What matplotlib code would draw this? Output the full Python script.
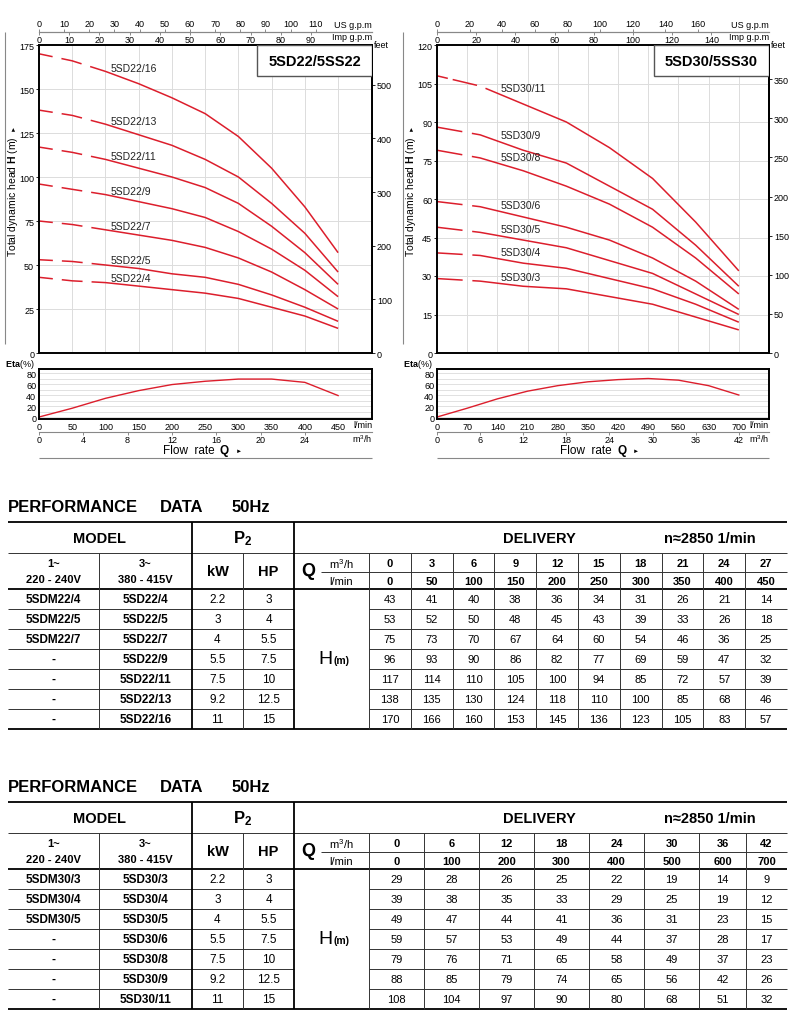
import numpy as np
import matplotlib
matplotlib.use('Agg')
import matplotlib.pyplot as plt
from matplotlib.patches import Rectangle
from matplotlib.transforms import offset_copy

plt.rcParams['font.family'] = ['Liberation Sans', 'DejaVu Sans']
plt.rcParams['mathtext.fontset'] = 'custom'
plt.rcParams['mathtext.rm'] = 'Liberation Sans'
plt.rcParams['mathtext.bf'] = 'Liberation Sans:bold'
plt.rcParams['mathtext.it'] = 'Liberation Sans:italic'
plt.rcParams['lines.scale_dashes'] = False
plt.rcParams['xtick.labelsize'] = 6.5
plt.rcParams['ytick.labelsize'] = 6.5

RED = '#dc1e2c'
GRID = '#dcdcdc'
LINE = '#333333'

# ---------------- data : 5SD22 / 5SS22 ----------------
q22_m3h = [0, 3, 6, 9, 12, 15, 18, 21, 24, 27]
q22_lmin = [0, 50, 100, 150, 200, 250, 300, 350, 400, 450]
model22_1ph = ['5SDM22/4', '5SDM22/5', '5SDM22/7', '-', '-', '-', '-']
model22_3ph = ['5SD22/4', '5SD22/5', '5SD22/7', '5SD22/9', '5SD22/11', '5SD22/13', '5SD22/16']
kw22 = ['2.2', '3', '4', '5.5', '7.5', '9.2', '11']
hp22 = ['3', '4', '5.5', '7.5', '10', '12.5', '15']
head22 = [
    [43, 41, 40, 38, 36, 34, 31, 26, 21, 14],
    [53, 52, 50, 48, 45, 43, 39, 33, 26, 18],
    [75, 73, 70, 67, 64, 60, 54, 46, 36, 25],
    [96, 93, 90, 86, 82, 77, 69, 59, 47, 32],
    [117, 114, 110, 105, 100, 94, 85, 72, 57, 39],
    [138, 135, 130, 124, 118, 110, 100, 85, 68, 46],
    [170, 166, 160, 153, 145, 136, 123, 105, 83, 57],
]
eta22_q = [0, 50, 100, 150, 200, 250, 300, 350, 400, 450]
eta22 = [0, 16, 34, 48, 59, 65, 69, 69, 63, 39]

# ---------------- data : 5SD30 / 5SS30 ----------------
q30_m3h = [0, 6, 12, 18, 24, 30, 36, 42]
q30_lmin = [0, 100, 200, 300, 400, 500, 600, 700]
model30_1ph = ['5SDM30/3', '5SDM30/4', '5SDM30/5', '-', '-', '-', '-']
model30_3ph = ['5SD30/3', '5SD30/4', '5SD30/5', '5SD30/6', '5SD30/8', '5SD30/9', '5SD30/11']
kw30 = ['2.2', '3', '4', '5.5', '7.5', '9.2', '11']
hp30 = ['3', '4', '5.5', '7.5', '10', '12.5', '15']
head30 = [
    [29, 28, 26, 25, 22, 19, 14, 9],
    [39, 38, 35, 33, 29, 25, 19, 12],
    [49, 47, 44, 41, 36, 31, 23, 15],
    [59, 57, 53, 49, 44, 37, 28, 17],
    [79, 76, 71, 65, 58, 49, 37, 23],
    [88, 85, 79, 74, 65, 56, 42, 26],
    [108, 104, 97, 90, 80, 68, 51, 32],
]
eta30_q = [0, 70, 140, 210, 280, 350, 420, 490, 560, 630, 700]
eta30 = [0, 16, 33, 47, 57, 64, 68, 70, 67, 57, 40]

W, H = 800, 1020
fig = plt.figure(figsize=(8, 10.2), dpi=100)

# overlay axes in pixel coordinates (for tables & decorations)
ov = fig.add_axes([0, 0, 1, 1])
ov.set_xlim(0, W)
ov.set_ylim(H, 0)
ov.set_axis_off()


def rect(x0, y0, x1, y1):
    return [x0 / W, 1 - y1 / H, (x1 - x0) / W, (y1 - y0) / H]


def hline(y, x0, x1, lw=0.7, color=LINE):
    ov.plot([x0, x1], [y, y], color=color, lw=lw, solid_capstyle='butt')


def vline(x, y0, y1, lw=0.7, color=LINE):
    ov.plot([x, x], [y0, y1], color=color, lw=lw, solid_capstyle='butt')


def draw_chart(xl, xr, q, heads, names, eta_q, eta, xmax, xstep, ymax, ystep,
               ft_max, ft_step, us_max, us_step, imp_max, imp_step, m3_max, m3_step,
               title, lab_x, lab_dy, dash_main, dash_special=None, special_idx=None):
    top, bot = 46, 354
    ax = fig.add_axes(rect(xl, top, xr, bot))
    ax.set_xlim(0, xmax)
    ax.set_ylim(0, ymax)
    ax.set_xticks(np.arange(0, xmax + 1, xstep))
    ax.set_yticks(np.arange(0, ymax + 1, ystep))
    ax.tick_params(axis='x', length=0, labelbottom=False)
    ax.tick_params(axis='y', length=2, width=0.6, pad=1.5)
    ax.grid(color=GRID, lw=0.7)
    ax.set_axisbelow(True)
    for s in ax.spines.values():
        s.set_linewidth(1.4)

    for i, (h, nm) in enumerate(zip(heads, names)):
        ls = dash_special if (special_idx is not None and i == special_idx) else dash_main
        ax.plot(q, h, color=RED, lw=1.1, ls=ls)
        tr = offset_copy(ax.transData, fig=fig, x=0, y=lab_dy, units='dots')
        ax.text(lab_x, np.interp(lab_x, q, h), nm, transform=tr, fontsize=7.5,
                ha='left', va='center', color='#222222')

    # feet axis
    ft = ax.secondary_yaxis('right', functions=(lambda m: m / 0.3048, lambda f: f * 0.3048))
    ft.set_ticks(np.arange(0, ft_max + 1, ft_step))
    ft.tick_params(length=2, width=0.6, pad=1.5)
    ft.spines['right'].set_linewidth(1.4)

    # top gpm axes
    loc = 1 + 13 / (bot - top)
    us = ax.secondary_xaxis(loc, functions=(lambda l: l / 3.785, lambda g: g * 3.785))
    us.set_ticks(np.arange(0, us_max + 1, us_step))
    us.tick_params(length=2, width=0.6, color='#777777', pad=1)
    us.spines['top'].set_color('#888888')
    us.spines['top'].set_linewidth(0.8)
    imp = ax.secondary_xaxis(loc, functions=(lambda l: l / 4.546, lambda g: g * 4.546))
    imp.set_alignment('bottom')
    imp.set_ticks(np.arange(0, imp_max + 1, imp_step))
    imp.tick_params(length=2, width=0.6, color='#777777', pad=0.5)
    imp.spines['bottom'].set_color('#888888')
    imp.spines['bottom'].set_linewidth(0.8)

    # title box
    bx = (xr - 115 - xl) / (xr - xl)
    by = 1 - 31 / (bot - top)
    ax.add_patch(Rectangle((bx, by), 1 - bx, 1 - by, transform=ax.transAxes,
                           fc='white', ec='#555555', lw=1.0, zorder=5))
    ax.text((bx + 1) / 2, (by + 1) / 2, title, transform=ax.transAxes, fontsize=10.5,
            fontweight='bold', ha='center', va='center', zorder=6)

    # eta axes
    et, eb = 370, 420
    axe = fig.add_axes(rect(xl, et, xr, eb))
    axe.set_xlim(0, xmax)
    axe.set_ylim(-3.6, 87.3)
    axe.set_yticks([0, 20, 40, 60, 80])
    axe.set_yticks(np.arange(10, 81, 20), minor=True)
    axe.set_xticks(np.arange(0, max(eta_q) + 1, xstep))
    axe.tick_params(axis='x', length=0, pad=2)
    axe.tick_params(axis='y', length=0, pad=2)
    axe.tick_params(which='minor', length=0)
    axe.grid(axis='y', which='both', color=GRID, lw=0.6)
    axe.set_axisbelow(True)
    for s in axe.spines.values():
        s.set_linewidth(1.4)
    axe.plot(eta_q, eta, color=RED, lw=1.0)

    m3 = axe.secondary_xaxis(-13 / (eb - et), functions=(lambda l: l * 0.06, lambda m: m / 0.06))
    m3.set_ticks(np.arange(0, m3_max + 1, m3_step))
    m3.tick_params(length=2, width=0.6, color='#777777', pad=0.5)
    m3.spines['bottom'].set_color('#888888')
    m3.spines['bottom'].set_linewidth(0.8)

    # decorations & labels (pixel positions)
    ov.text(xr, 25, 'US g.p.m', fontsize=6.5, ha='right', va='center')
    ov.text(xr, 38, 'Imp g.p.m', fontsize=6.5, ha='right', va='center')
    ov.text(xr + 2, 46, 'feet', fontsize=6.5, ha='left', va='center')
    ov.text(xr, 426, 'l/min', fontsize=6.5, ha='right', va='center')
    ov.text(xr, 439, 'm$^3$/h', fontsize=6.5, ha='right', va='center')
    vline(xl - 34, 33, 345, lw=0.8, color='#888888')
    ov.text(xl - 26, 197, r'Total dynamic head $\mathbf{H}$ (m)', rotation=90,
            fontsize=7.5, ha='center', va='center')
    ov.text(xl - 26, 128, '►', rotation=90, fontsize=4.5, ha='center', va='center')
    ov.text(xl - 34, 365, r'$\mathbf{Eta}$(%)', fontsize=6.5, ha='left', va='center')
    wid = xr - xl
    ov.text(xl + 0.527 * wid, 451, 'Flow  rate', fontsize=8.5, ha='right', va='center')
    ov.text(xl + 0.543 * wid, 451, 'Q', fontsize=8.5, fontweight='bold', ha='left', va='center')
    ov.text(xl + 0.59 * wid, 451, '►', fontsize=4.5, ha='left', va='center')
    hline(459, xl, xr, lw=0.8, color='#888888')
    return ax


draw_chart(39, 372, q22_lmin, head22, model22_3ph, eta22_q, eta22,
           xmax=501, xstep=50, ymax=175, ystep=25, ft_max=500, ft_step=100,
           us_max=110, us_step=10, imp_max=90, imp_step=10, m3_max=24, m3_step=4,
           title='5SD22/5SS22', lab_x=107, lab_dy=5,
           dash_main=(0, (10, 6.5, 15, 6.5, 3000, 1)))

draw_chart(437, 769, q30_lmin, head30, model30_3ph, eta30_q, eta30,
           xmax=770, xstep=70, ymax=120, ystep=15, ft_max=350, ft_step=50,
           us_max=160, us_step=20, imp_max=140, imp_step=20, m3_max=42, m3_step=6,
           title='5SD30/5SS30', lab_x=148, lab_dy=7,
           dash_main=(0, (18.5, 7, 3000, 1)),
           dash_special=(0, (8, 3.6, 18, 6.5, 3000, 1)), special_idx=6)


# ---------------- tables ----------------
def draw_table(T, q_m3h, q_lmin, m1, m3, kw, hp, heads, edges):
    L, R = 8, 787
    x_c1, x_c2, x_kw, x_hp, x_q = 99, 192, 243, 294, 369
    ov.text(8, T - 15, 'PERFORMANCE', fontsize=12, fontweight='bold', ha='left', va='center')
    ov.text(160, T - 15, 'DATA', fontsize=12, fontweight='bold', ha='left', va='center')
    ov.text(232, T - 15, '50Hz', fontsize=12, fontweight='bold', ha='left', va='center')
    thick, thin = 1.3, 0.7
    rh = 20
    bottom = T + 67 + rh * len(heads)
    hline(T, L, R, thick, 'black')
    hline(T + 31, L, R, thin)
    hline(T + 50, 321, R, thin)
    hline(T + 67, L, R, thick, 'black')
    for i in range(1, len(heads)):
        y = T + 67 + rh * i
        hline(y, L, x_hp, thin)
        hline(y, x_q, R, thin)
    hline(bottom, L, R, thick, 'black')
    vline(x_c1, T + 31, bottom, thin)
    vline(x_c2, T, bottom, thick, 'black')
    vline(x_kw, T + 31, bottom, thin)
    vline(x_hp, T, bottom, thick, 'black')
    for e in edges[:-1]:
        vline(e, T + 31, bottom, thin)

    bf = dict(fontweight='bold', ha='center', va='center')
    ov.text((L + x_c2) / 2, T + 16, 'MODEL', fontsize=10.5, **bf)
    ov.text((x_c2 + x_hp) / 2, T + 16, r'P$_\mathbf{2}$', fontsize=12, **bf)
    ov.text(539, T + 16, 'DELIVERY', fontsize=10.5, **bf)
    ov.text(710, T + 16, 'n≈2850 1/min', fontsize=10.5, **bf)
    ov.text((L + x_c1) / 2, T + 41, '1~', fontsize=8, **bf)
    ov.text((L + x_c1) / 2, T + 57, '220 - 240V', fontsize=8, **bf)
    ov.text((x_c1 + x_c2) / 2, T + 41, '3~', fontsize=8, **bf)
    ov.text((x_c1 + x_c2) / 2, T + 57, '380 - 415V', fontsize=8, **bf)
    ov.text((x_c2 + x_kw) / 2, T + 49, 'kW', fontsize=10.5, **bf)
    ov.text((x_kw + x_hp) / 2, T + 49, 'HP', fontsize=10.5, **bf)
    ov.text(308, T + 49, 'Q', fontsize=13, **bf)
    ov.text(341, T + 41, 'm$^3$/h', fontsize=8, ha='center', va='center')
    ov.text(341, T + 59, 'l/min', fontsize=8, ha='center', va='center')
    centers = [(a + b) / 2 for a, b in zip(edges[:-1], edges[1:])]
    for c, a, b in zip(centers, q_m3h, q_lmin):
        ov.text(c, T + 41, str(a), fontsize=8, **bf)
        ov.text(c, T + 59, str(b), fontsize=8, **bf)

    for i in range(len(heads)):
        y = T + 67 + rh * i + rh / 2
        ov.text((L + x_c1) / 2, y, m1[i], fontsize=8.5, **bf)
        ov.text((x_c1 + x_c2) / 2, y, m3[i], fontsize=8.5, **bf)
        ov.text((x_c2 + x_kw) / 2, y, kw[i], fontsize=8.5, ha='center', va='center')
        ov.text((x_kw + x_hp) / 2, y, hp[i], fontsize=8.5, ha='center', va='center')
        for c, v in zip(centers, heads[i]):
            ov.text(c, y, str(v), fontsize=8, ha='center', va='center')
    ym = (T + 67 + bottom) / 2
    ov.text(333, ym, 'H', fontsize=14, ha='right', va='center')
    ov.text(334, ym + 1.5, '(m)', fontsize=7.5, fontweight='bold', ha='left', va='center')


draw_table(523, q22_m3h, q22_lmin, model22_1ph, model22_3ph, kw22, hp22, head22,
           list(np.linspace(369, 787, len(q22_m3h) + 1)))
draw_table(803, q30_m3h, q30_lmin, model30_1ph, model30_3ph, kw30, hp30, head30,
           [369, 424, 479, 534, 589, 644, 699, 746, 787])

fig.savefig('out.png', dpi=100)
